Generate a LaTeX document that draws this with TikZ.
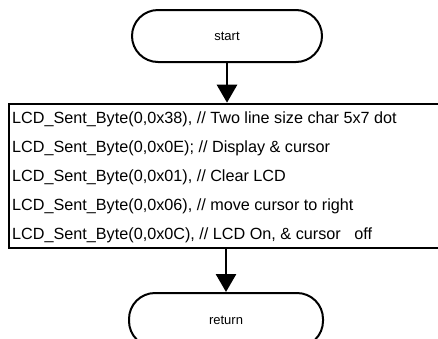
\documentclass[tikz,border=0pt]{standalone}
\usepackage{fontspec}
\setmainfont{Liberation Sans}
\usetikzlibrary{arrows.meta,calc}
\begin{document}
\begin{tikzpicture}[x=1pt,y=-1pt,
  terminal/.style={draw,line width=2pt,rounded corners=26pt,
    minimum width=190pt,minimum height=52pt,inner sep=0pt,
    font=\fontsize{13}{15}\selectfont},
  codebox/.style={draw,line width=2.6pt,minimum width=460pt,
    minimum height=144pt,inner sep=0pt},
  codeline/.style={anchor=west,inner sep=0pt,
    font=\fontsize{16.2}{18}\selectfont},
  flow/.style={line width=2.8pt,-{Triangle[length=18pt,width=20pt]}}]
\useasboundingbox (0,0) rectangle (438,338);
\begin{scope}
\clip (0,0) rectangle (438,338);
% terminals
\node[terminal] (start) at (227,36) {start};
\node[terminal,minimum width=194pt,minimum height=54pt] (ret) at (226,320) {return};
% initialisation sequence
\node[codebox] (init) at (239,176) {};
\node[codeline] (r1) at (12,119) {LCD\_Sent\_Byte(0,0x38), // Two line size char 5x7 dot};
\node[codeline] (r2) at (12,148) {LCD\_Sent\_Byte(0,0x0E); // Display \& cursor};
\node[codeline] (r3) at (12,177) {LCD\_Sent\_Byte(0,0x01), // Clear LCD};
\node[codeline] (r4) at (12,206) {LCD\_Sent\_Byte(0,0x06), // move cursor to right};
\node[codeline] (r5) at (12,235) {LCD\_Sent\_Byte(0,0x0C), // LCD On, \& cursor\ \ \ off};
% connectors
\draw[flow] (start.south) -- (start.south |- init.north);
\draw[flow] (ret.north |- init.south) -- (ret.north);
\end{scope}
\end{tikzpicture}
\end{document}
